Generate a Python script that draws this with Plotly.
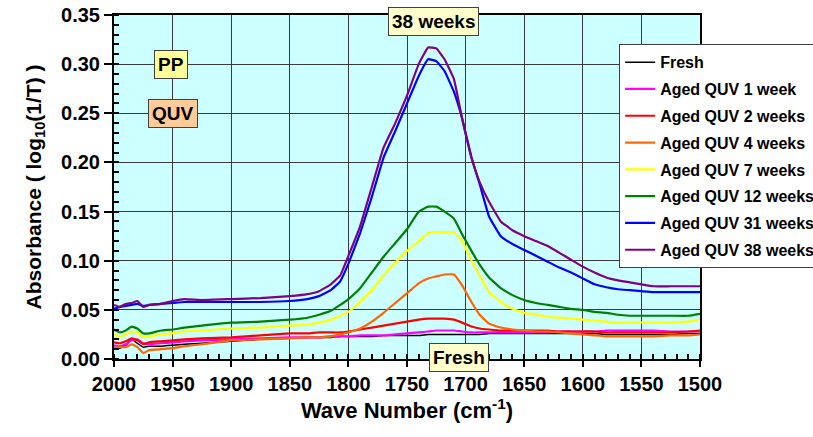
import plotly.graph_objects as go

wavenumber = [2000, 1995, 1990, 1985, 1980, 1975, 1970, 1960, 1950, 1940, 1925, 1900, 1875, 1850,
              1835, 1825, 1815, 1807, 1800, 1790, 1780, 1770, 1760, 1750, 1740, 1732, 1725, 1718,
              1710, 1703, 1695, 1688, 1680, 1670, 1660, 1650, 1640, 1630, 1620, 1610, 1600, 1590,
              1580, 1570, 1560, 1550, 1540, 1525, 1510, 1500]

fresh = [0.012, 0.011, 0.014, 0.020, 0.016, 0.012, 0.013, 0.013, 0.014, 0.015, 0.016, 0.018, 0.020, 0.021,
         0.022, 0.022, 0.022, 0.023, 0.023, 0.023, 0.023, 0.024, 0.024, 0.024, 0.024, 0.025, 0.025, 0.025,
         0.025, 0.025, 0.025, 0.025, 0.026, 0.026, 0.026, 0.026, 0.026, 0.026, 0.026, 0.026, 0.026, 0.026,
         0.025, 0.025, 0.025, 0.025, 0.025, 0.025, 0.026, 0.026]
week1 = [0.014, 0.013, 0.015, 0.019, 0.020, 0.016, 0.015, 0.016, 0.017, 0.018, 0.019, 0.020, 0.021, 0.022,
         0.022, 0.022, 0.023, 0.023, 0.023, 0.024, 0.024, 0.024, 0.025, 0.026, 0.027, 0.028, 0.029, 0.029,
         0.029, 0.028, 0.027, 0.027, 0.027, 0.027, 0.027, 0.027, 0.027, 0.027, 0.028, 0.028, 0.028, 0.028,
         0.029, 0.029, 0.029, 0.029, 0.029, 0.028, 0.028, 0.028]
week2 = [0.017, 0.016, 0.018, 0.021, 0.019, 0.015, 0.017, 0.018, 0.019, 0.020, 0.021, 0.022, 0.024, 0.026,
         0.026, 0.027, 0.027, 0.027, 0.028, 0.030, 0.032, 0.034, 0.036, 0.038, 0.040, 0.041, 0.041, 0.041,
         0.040, 0.037, 0.033, 0.031, 0.030, 0.029, 0.029, 0.029, 0.029, 0.029, 0.028, 0.028, 0.028, 0.028,
         0.027, 0.027, 0.027, 0.027, 0.027, 0.027, 0.028, 0.029]
week4 = [0.011, 0.012, 0.012, 0.015, 0.012, 0.006, 0.009, 0.010, 0.011, 0.013, 0.015, 0.019, 0.020, 0.021,
         0.022, 0.022, 0.023, 0.025, 0.027, 0.031, 0.038, 0.047, 0.057, 0.067, 0.077, 0.082, 0.084, 0.086,
         0.086, 0.075, 0.058, 0.045, 0.036, 0.032, 0.030, 0.029, 0.028, 0.028, 0.027, 0.026, 0.025, 0.024,
         0.023, 0.023, 0.023, 0.023, 0.023, 0.024, 0.024, 0.025]
week7 = [0.025, 0.023, 0.025, 0.028, 0.027, 0.022, 0.023, 0.025, 0.026, 0.028, 0.029, 0.031, 0.032, 0.034,
         0.035, 0.037, 0.040, 0.044, 0.048, 0.058, 0.070, 0.085, 0.098, 0.110, 0.120, 0.128, 0.129, 0.129,
         0.129, 0.120, 0.100, 0.085, 0.068, 0.058, 0.051, 0.047, 0.045, 0.043, 0.042, 0.041, 0.040, 0.039,
         0.038, 0.037, 0.037, 0.037, 0.037, 0.037, 0.038, 0.040]
week12 = [0.030, 0.027, 0.029, 0.033, 0.031, 0.026, 0.026, 0.029, 0.030, 0.032, 0.034, 0.037, 0.038, 0.040,
          0.042, 0.045, 0.049, 0.055, 0.061, 0.072, 0.088, 0.104, 0.118, 0.132, 0.150, 0.155, 0.155, 0.150,
          0.143, 0.127, 0.110, 0.096, 0.083, 0.072, 0.065, 0.060, 0.057, 0.055, 0.053, 0.051, 0.050, 0.048,
          0.047, 0.045, 0.044, 0.044, 0.044, 0.044, 0.044, 0.046]
week31 = [0.051, 0.053, 0.054, 0.055, 0.056, 0.054, 0.055, 0.056, 0.057, 0.058, 0.058, 0.058, 0.058, 0.059,
          0.061, 0.064, 0.070, 0.079, 0.097, 0.128, 0.165, 0.205, 0.232, 0.260, 0.288, 0.305, 0.303, 0.293,
          0.272, 0.245, 0.205, 0.178, 0.145, 0.125, 0.117, 0.111, 0.105, 0.099, 0.093, 0.088, 0.082, 0.076,
          0.073, 0.071, 0.070, 0.069, 0.068, 0.068, 0.068, 0.068]
week38 = [0.055, 0.053, 0.056, 0.057, 0.059, 0.053, 0.055, 0.056, 0.059, 0.061, 0.060, 0.061, 0.062, 0.064,
          0.066, 0.069, 0.076, 0.085, 0.105, 0.135, 0.175, 0.215, 0.240, 0.268, 0.300, 0.317, 0.316, 0.305,
          0.285, 0.245, 0.205, 0.180, 0.160, 0.140, 0.131, 0.125, 0.120, 0.115, 0.108, 0.101, 0.094, 0.088,
          0.083, 0.080, 0.078, 0.076, 0.074, 0.074, 0.074, 0.074]

series_names = ["Fresh", "Aged QUV 1 week", "Aged QUV 2 weeks", "Aged QUV 4 weeks",
                "Aged QUV 7 weeks", "Aged QUV 12 weeks", "Aged QUV 31 weeks", "Aged QUV 38 weeks"]
series_values = [fresh, week1, week2, week4, week7, week12, week31, week38]
series_colors = ["#000000", "#FF00FF", "#FF0000", "#FF6600", "#FFFF00", "#008000", "#0000FF", "#800080"]

FONT = "Liberation Sans, Arial, sans-serif"

fig = go.Figure()
for i, (name, vals, col) in enumerate(zip(series_names, series_values, series_colors)):
    fig.add_trace(go.Scatter(
        x=wavenumber, y=vals, mode="lines", name=name, legendgroup=f"g{i}",
        line=dict(color=col, width=1.5 if i == 0 else 2.2, shape="spline", smoothing=0.3),
    ))

grid_col = "#3a3a3a"
fig.update_layout(
    width=813, height=437,
    margin=dict(l=114, r=113, t=15, b=78, autoexpand=False),
    plot_bgcolor="#CCFFFF", paper_bgcolor="#FFFFFF",
    font=dict(family=FONT, color="#000000"),
    showlegend=True,
    legend=dict(
        x=0.862, y=0.915, xanchor="left", yanchor="top",
        bgcolor="#FFFFFF", bordercolor="#404040", borderwidth=1,
        font=dict(family=FONT, size=16, weight="bold"),
        traceorder="grouped", tracegroupgap=3, itemwidth=30,
    ),
    xaxis=dict(
        range=[2000, 1500], dtick=50, tick0=1500,
        showgrid=True, gridcolor=grid_col, gridwidth=1,
        showline=True, linecolor="#000000", linewidth=2, mirror=True,
        ticks="outside", ticklen=6, tickwidth=2, tickcolor="#000000",
        tickfont=dict(family=FONT, size=20, weight="bold"),
        minor=dict(ticks="inside", dtick=10, ticklen=5, tickwidth=1.5, tickcolor="#000000", showgrid=False),
        title=dict(text="Wave Number (cm<sup>-1</sup>)", font=dict(family=FONT, size=22, weight="bold"), standoff=6),
        zeroline=False,
    ),
    yaxis=dict(
        range=[0, 0.35], dtick=0.05, tickformat=".2f",
        showgrid=True, gridcolor=grid_col, gridwidth=1,
        showline=True, linecolor="#000000", linewidth=2, mirror=True,
        ticks="outside", ticklen=8, tickwidth=2, tickcolor="#000000",
        tickfont=dict(family=FONT, size=20, weight="bold"),
        minor=dict(ticks="inside", dtick=0.01, ticklen=5, tickwidth=1.5, tickcolor="#000000", showgrid=False),
        title=dict(text="Absorbance ( log<sub>10</sub>(1/T) )", font=dict(family=FONT, size=21, weight="bold"), standoff=14),
        zeroline=False,
    ),
)

box_annots = [
    ("38 weeks", 1727, 0.343, "#FFFFCC"),
    ("PP", 1951, 0.300, "#FFFF99"),
    ("QUV", 1950, 0.250, "#FFCC99"),
    ("Fresh", 1706, 0.002, "#FFFFCC"),
]
for text, xv, yv, bg in box_annots:
    fig.add_annotation(
        x=xv, y=yv, xref="x", yref="y", text=text, showarrow=False,
        font=dict(family=FONT, size=19, weight="bold", color="#000000"),
        bgcolor=bg, bordercolor="#404040", borderwidth=1, borderpad=3,
    )

fig.write_html("out.html")
